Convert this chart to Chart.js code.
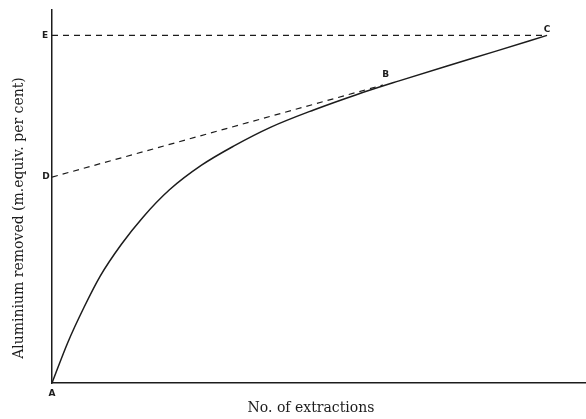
<!DOCTYPE html>
<html>
<head>
<meta charset="utf-8">
<script src="https://cdn.jsdelivr.net/npm/chart.js@4"></script>
<style>
  html, body { margin: 0; padding: 0; background: #fff; }
  #wrap { width: 586px; height: 419px; }
</style>
</head>
<body>
<div id="wrap"><canvas id="chart"></canvas></div>
<script>
// extraction curve (arbitrary units 0-100)
const curveX = [0, 3, 6, 9, 13, 17, 22, 28, 34, 41, 49, 57, 65, 74, 83, 92.7];
const curveY = [0, 11, 20.3, 28.6, 37.2, 44.4, 51.8, 58.4, 63.5, 68.6, 73.2, 77.3, 81.0, 85.0, 88.9, 93.2];

// dashed construction lines
const lineEX = [0, 92.7];
const lineEY = [93.2, 93.2];
const lineDX = [0, 62];
const lineDY = [55.2, 79.9];

// lettered points
const pointNames = ["A", "B", "C", "D", "E"];
const pointX = [0, 62.5, 92.7, 0, 0];
const pointY = [0, 80.6, 93.3, 55.2, 93.2];
const pointOffX = [0, 0, 0, -6, -7];
const pointOffY = [11, -8, -5, 0, 0];

const xTitle = "No. of extractions";
const yTitle = "Aluminium removed (m.equiv. per cent)";

const ink = "#1c1c1c";

function toPoints(xs, ys) {
    return xs.map((x, i) => ({ x: x, y: ys[i] }));
}

const labelsPlugin = {
    id: "labels",
    afterDraw(chart) {
        const ctx = chart.ctx;
        const xs = chart.scales.x;
        const ys = chart.scales.y;
        ctx.save();
        ctx.fillStyle = ink;
        ctx.textAlign = "center";
        ctx.textBaseline = "middle";
        ctx.font = "bold 9px 'DejaVu Sans'";
        pointNames.forEach((name, i) => {
            ctx.fillText(name,
                xs.getPixelForValue(pointX[i]) + pointOffX[i],
                ys.getPixelForValue(pointY[i]) + pointOffY[i]);
        });
        ctx.font = "14px 'DejaVu Serif'";
        ctx.fillText(xTitle, 311, 408);
        ctx.translate(19, 218);
        ctx.rotate(-Math.PI / 2);
        ctx.fillText(yTitle, 0, 0);
        ctx.restore();
    }
};

new Chart(document.getElementById("chart"), {
    type: "scatter",
    data: {
        datasets: [
            {
                data: toPoints(curveX, curveY),
                showLine: true,
                borderColor: ink,
                borderWidth: 1.5,
                pointRadius: 0,
                cubicInterpolationMode: "monotone",
            },
            {
                data: toPoints(lineEX, lineEY),
                showLine: true,
                borderColor: ink,
                borderWidth: 1.2,
                borderDash: [6, 5],
                pointRadius: 0,
            },
            {
                data: toPoints(lineDX, lineDY),
                showLine: true,
                borderColor: ink,
                borderWidth: 1.2,
                borderDash: [6, 5],
                pointRadius: 0,
            },
        ],
    },
    options: {
        responsive: true,
        maintainAspectRatio: false,
        animation: false,
        layout: { padding: { top: 10, right: 0, left: 0, bottom: 0 } },
        plugins: {
            legend: { display: false },
            tooltip: { enabled: false },
        },
        scales: {
            x: {
                type: "linear",
                min: 0,
                max: 100,
                grid: { display: false },
                ticks: { display: false },
                border: { display: true, color: ink, width: 1.5 },
                afterFit: (s) => { s.height = 36; },
            },
            y: {
                type: "linear",
                min: 0,
                max: 100,
                grid: { display: false },
                ticks: { display: false },
                border: { display: true, color: ink, width: 1.5 },
                afterFit: (s) => { s.width = 52; },
            },
        },
    },
    plugins: [labelsPlugin],
});
</script>
</body>
</html>
